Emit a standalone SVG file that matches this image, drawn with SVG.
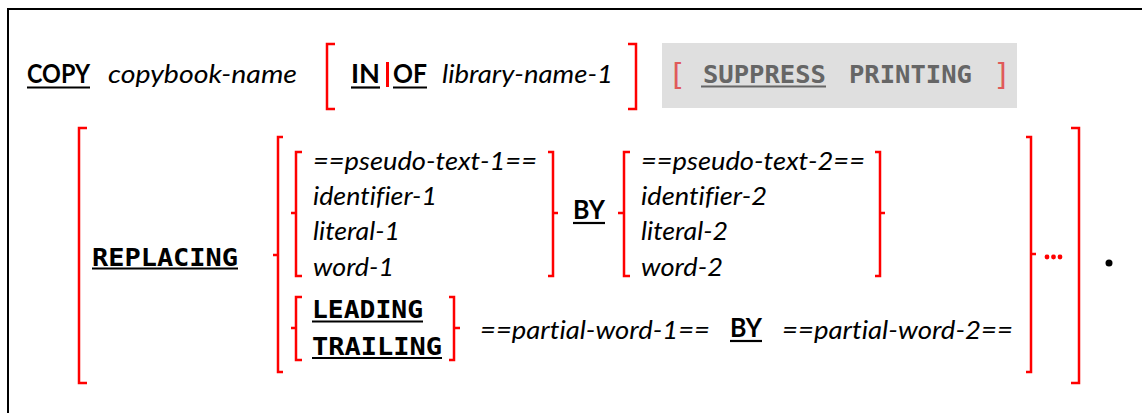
<svg xmlns="http://www.w3.org/2000/svg" width="1142" height="413" viewBox="0 0 1142 413">
  <style>
    text{font-variant-ligatures:none}
    .kw{font-family:Lato,"Liberation Sans",sans-serif;font-weight:bold;font-size:26px;fill:#000}
    .it{font-family:Lato,"Liberation Sans",sans-serif;font-style:italic;font-size:26px;fill:#000}
    .mono{font-family:"DejaVu Sans Mono","Liberation Mono",monospace;font-weight:bold;font-size:25px;fill:#000}
    .sq{font-family:"DejaVu Sans Mono","Liberation Mono",monospace;font-size:30px;fill:#e05a5a}
    .br{fill:none;stroke:#f00;stroke-width:2.5}
    .ul{stroke:#000;stroke-width:2.2}
  </style>

  <!-- frame (top and left edges only) -->
  <path d="M8,413 V9 H1142" fill="none" stroke="#000" stroke-width="2"/>

  <!-- first line: COPY copybook-name [IN|OF library-name-1] [SUPPRESS PRINTING] -->
  <g id="copy">
    <text class="kw" x="27" y="83" textLength="63" lengthAdjust="spacingAndGlyphs">COPY</text>
    <line class="ul" x1="27" y1="87.5" x2="90" y2="87.5"/>
  </g>
  <g id="copybook-name">
    <text class="it" x="108" y="83" textLength="189" lengthAdjust="spacingAndGlyphs">copybook-name</text>
  </g>
  <g id="in-of">
    <text class="kw" x="351" y="83" textLength="29" lengthAdjust="spacingAndGlyphs">IN</text>
    <line class="ul" x1="351" y1="87.5" x2="380" y2="87.5"/>
    <rect x="386" y="62" width="3" height="25" fill="#f00"/>
    <text class="kw" x="393" y="83" textLength="34" lengthAdjust="spacingAndGlyphs">OF</text>
    <line class="ul" x1="393" y1="87.5" x2="427" y2="87.5"/>
    <text class="it" x="442" y="83" textLength="171" lengthAdjust="spacingAndGlyphs">library-name-1</text>
  </g>
  <g id="suppress">
    <rect x="662" y="43" width="355" height="65" fill="#dfdfdf"/>
    <text class="sq" x="668" y="85">[</text>
    <text class="mono" x="703" y="83" textLength="123" lengthAdjust="spacingAndGlyphs" style="fill:#666">SUPPRESS</text>
    <line x1="701" y1="86.5" x2="826" y2="86.5" stroke="#666" stroke-width="2.2"/>
    <text class="mono" x="849" y="83" textLength="123" lengthAdjust="spacingAndGlyphs" style="fill:#666">PRINTING</text>
    <text class="sq" x="993" y="85">]</text>
  </g>

  <!-- REPLACING phrase -->
  <g id="replacing">
    <text class="mono" x="92" y="266" textLength="146" lengthAdjust="spacingAndGlyphs">REPLACING</text>
    <line class="ul" x1="92" y1="268.5" x2="238" y2="268.5"/>
  </g>
  <g id="operand-1">
    <text class="it" x="313" y="170" textLength="224" lengthAdjust="spacingAndGlyphs">==pseudo-text-1==</text>
    <text class="it" x="313" y="205" textLength="124" lengthAdjust="spacingAndGlyphs">identifier-1</text>
    <text class="it" x="313" y="240" textLength="87" lengthAdjust="spacingAndGlyphs">literal-1</text>
    <text class="it" x="313" y="276" textLength="81" lengthAdjust="spacingAndGlyphs">word-1</text>
  </g>
  <g id="by-1">
    <text class="kw" x="573" y="219" textLength="32" lengthAdjust="spacingAndGlyphs">BY</text>
    <line class="ul" x1="573" y1="223" x2="605" y2="223"/>
  </g>
  <g id="operand-2">
    <text class="it" x="641" y="170" textLength="224" lengthAdjust="spacingAndGlyphs">==pseudo-text-2==</text>
    <text class="it" x="641" y="205" textLength="126" lengthAdjust="spacingAndGlyphs">identifier-2</text>
    <text class="it" x="641" y="240" textLength="87" lengthAdjust="spacingAndGlyphs">literal-2</text>
    <text class="it" x="641" y="276" textLength="82" lengthAdjust="spacingAndGlyphs">word-2</text>
  </g>
  <g id="leading-trailing">
    <text class="mono" x="312" y="318" textLength="111" lengthAdjust="spacingAndGlyphs">LEADING</text>
    <line class="ul" x1="312" y1="321.5" x2="423" y2="321.5"/>
    <text class="mono" x="312" y="355" textLength="130" lengthAdjust="spacingAndGlyphs">TRAILING</text>
    <line class="ul" x1="312" y1="358" x2="442" y2="358"/>
  </g>
  <g id="partial-word-1">
    <text class="it" x="480" y="339" textLength="230" lengthAdjust="spacingAndGlyphs">==partial-word-1==</text>
  </g>
  <g id="by-2">
    <text class="kw" x="730" y="337" textLength="32" lengthAdjust="spacingAndGlyphs">BY</text>
    <line class="ul" x1="730" y1="341" x2="762" y2="341"/>
  </g>
  <g id="partial-word-2">
    <text class="it" x="782" y="339" textLength="231" lengthAdjust="spacingAndGlyphs">==partial-word-2==</text>
  </g>

  <!-- brackets and braces -->
  <g id="brackets" class="br">
    <path d="M335,44 H327 V109 H335"/>
    <path d="M628,44 H636 V109 H628"/>
    <path d="M87,128 H79 V383 H87"/>
    <path d="M283,137 H278 V372 H283 M278,255 H273"/>
    <path d="M302,152 H296 V276 H302 M296,213 H291"/>
    <path d="M548,152 H553 V276 H548 M553,213 H558"/>
    <path d="M630,152 H624 V276 H630 M624,213 H618"/>
    <path d="M875,152 H880 V276 H875 M880,213 H885"/>
    <path d="M302,297 H296 V360 H302 M296,328 H291"/>
    <path d="M449,297 H454 V360 H449 M454,328 H460"/>
    <path d="M1026,137 H1031 V372 H1026 M1031,254 H1036"/>
    <path d="M1071,128 H1079 V383 H1071"/>
  </g>

  <!-- repetition ellipsis and terminating period -->
  <g id="ellipsis" fill="#f00">
    <circle cx="1047" cy="257" r="2.4"/>
    <circle cx="1053.5" cy="257" r="2.4"/>
    <circle cx="1060" cy="257" r="2.4"/>
  </g>
  <g id="period">
    <circle cx="1109" cy="263" r="3.5" fill="#000"/>
  </g>
</svg>
